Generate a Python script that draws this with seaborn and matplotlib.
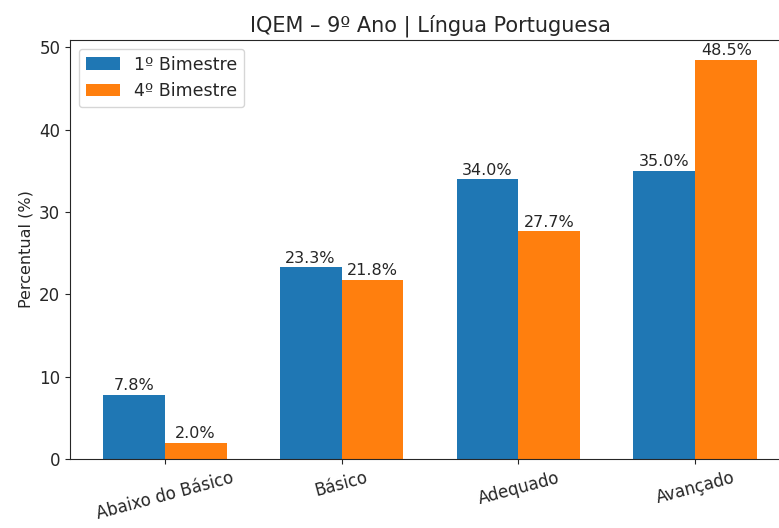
import pandas as pd
import matplotlib
matplotlib.use("Agg")
import matplotlib.pyplot as plt
import seaborn as sns

categorias = ["Abaixo do Básico", "Básico", "Adequado", "Avançado"]
bim1 = [7.8, 23.3, 34.0, 35.0]
bim4 = [2.0, 21.8, 27.7, 48.5]
series = ["1º Bimestre", "4º Bimestre"]

df = pd.DataFrame({
    "Nivel": categorias * 2,
    "Percentual": bim1 + bim4,
    "Bimestre": [series[0]] * 4 + [series[1]] * 4,
})

sns.set_style("ticks")
plt.rcParams['font.family'] = ['DejaVu Sans']
plt.rcParams['font.sans-serif'] = ['DejaVu Sans']

fig = plt.figure(figsize=(7.79, 5.28), dpi=100)
ax = fig.add_axes([70 / 779, 69 / 528, 720 / 779, 419 / 528])

sns.barplot(data=df, x="Nivel", y="Percentual", hue="Bimestre",
            palette=["#1f77b4", "#ff7f0e"], width=0.7, saturation=1,
            errorbar=None, linewidth=0, ax=ax)

for c in ax.containers:
    ax.bar_label(c, fmt="%.1f%%", fontsize=11.5, padding=1)

ax.set_xlim(-0.535, 3.535)
ax.set_ylim(0, 50.9)
ax.set_xlabel("")
ax.set_ylabel("Percentual (%)", fontsize=11.5)
ax.set_title("IQEM – 9º Ano | Língua Portuguesa", fontsize=15)
ax.tick_params(axis="x", labelsize=12, rotation=15)
ax.tick_params(axis="y", labelsize=12)
ax.legend(loc="upper left", fontsize=12.5, title=None)
for s in ax.spines.values():
    s.set_visible(True)

fig.savefig("out.png", dpi=100)
